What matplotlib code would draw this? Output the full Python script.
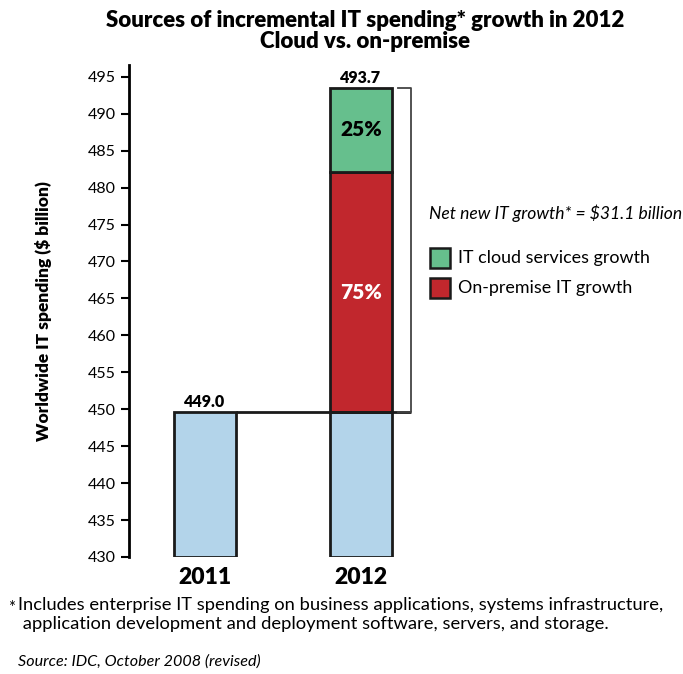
import matplotlib.pyplot as plt
from matplotlib.patches import Rectangle

# Datos
years = ['2011', '2012']
base_values = [449.6, 449.6]       # gasto base (barra azul)
onprem_growth = [0, 32.5]          # crecimiento on-premise (rojo)
cloud_growth = [0, 11.4]           # crecimiento cloud (verde)
top_labels = ['449.0', '493.7']
share_labels = ['75%', '25%']

blue = '#b3d4ea'
red = '#c1272d'
green = '#66bf8d'

plt.rcParams['font.family'] = ['Lato', 'DejaVu Sans']

fig = plt.figure(figsize=(6.83, 6.74), dpi=100)
ax = fig.add_axes([0.189, 0.1736, 0.411, 0.730])

x = [0, 1]
width = 0.4
ymin = 430
base_h = [b - ymin for b in base_values]
ax.bar(x, base_h, width, bottom=ymin, color=blue, edgecolor='#1a1a1a', linewidth=2, zorder=2)
onprem_bottom = base_values
ax.bar(x[1], onprem_growth[1], width, bottom=onprem_bottom[1], color=red,
       edgecolor='#1a1a1a', linewidth=2, zorder=2)
cloud_bottom = base_values[1] + onprem_growth[1]
ax.bar(x[1], cloud_growth[1], width, bottom=cloud_bottom, color=green,
       edgecolor='#1a1a1a', linewidth=2, zorder=2)

total_2012 = cloud_bottom + cloud_growth[1]

# Línea horizontal de conexión
ax.plot([x[0] + width / 2, 1.32], [base_values[0], base_values[0]], color='#1a1a1a',
        lw=2, zorder=3, clip_on=False, solid_capstyle='butt')

# Corchete
bx = 1.32
ax.plot([bx - 0.08, bx, bx, bx - 0.08], [total_2012, total_2012, base_values[1], base_values[1]],
        color='#444444', lw=1.3, clip_on=False, zorder=3)

# Etiquetas de valores
ax.text(x[0], base_values[0] + 0.3, top_labels[0], ha='center', va='bottom',
        fontsize=11.5, fontweight='heavy')
ax.text(x[1], total_2012 + 0.3, top_labels[1], ha='center', va='bottom',
        fontsize=11.5, fontweight='heavy')
ax.text(x[1], base_values[1] + onprem_growth[1] / 2, share_labels[0], ha='center', va='center',
        fontsize=15, fontweight='heavy', color='white')
ax.text(x[1], cloud_bottom + cloud_growth[1] / 2, share_labels[1], ha='center', va='center',
        fontsize=15, fontweight='heavy', color='black')

ax.set_xlim(-0.487, 1.314)
ax.set_ylim(ymin, 496.6)
ax.set_yticks(range(430, 496, 5))
ax.set_xticks(x)
ax.set_xticklabels(years, fontsize=16.5, fontweight='heavy')
ax.tick_params(axis='x', length=0, pad=7)
ax.tick_params(axis='y', labelsize=11.5, length=6, width=1.5, direction='out')
for s in ['top', 'right', 'bottom']:
    ax.spines[s].set_visible(False)
ax.spines['left'].set_linewidth(2)
ax.spines['left'].set_bounds(ymin, 496.6)

ax.set_ylabel('Worldwide IT spending ($ billion)', fontsize=12.5, fontweight='heavy', labelpad=26)

# Título
fig.text(0.535, 0.985, 'Sources of incremental IT spending* growth in 2012\nCloud vs. on-premise',
         ha='center', va='top', fontsize=16, fontweight='heavy', linespacing=1.0)

# Anotación y leyenda
fig.text(429 / 683, 1 - 213 / 674, 'Net new IT growth* = $31.1 billion', ha='left', va='center',
         fontsize=12.6, style='italic')
legend_items = [('IT cloud services growth', green), ('On-premise IT growth', red)]
for i, (lab, col) in enumerate(legend_items):
    yc = 258 + i * 30
    fig.patches.append(Rectangle((430 / 683, 1 - (yc + 10) / 674), 20 / 683, 20 / 674,
                                 transform=fig.transFigure, facecolor=col,
                                 edgecolor='#1a1a1a', linewidth=1.8))
    fig.text(458 / 683, 1 - yc / 674, lab, ha='left', va='center', fontsize=12.9)

# Notas
fig.text(8 / 683, 1 - 600 / 674, '*', ha='left', va='top', fontsize=12)
fig.text(18 / 683, 1 - 597 / 674, 'Includes enterprise IT spending on business applications, systems infrastructure,\n'
         ' application development and deployment software, servers, and storage.',
         ha='left', va='top', fontsize=13.2, linespacing=1.2)
fig.text(18 / 683, 1 - 662 / 674, 'Source: IDC, October 2008 (revised)', ha='left', va='center',
         fontsize=11.6, style='italic')

plt.savefig('out.png', dpi=100)
